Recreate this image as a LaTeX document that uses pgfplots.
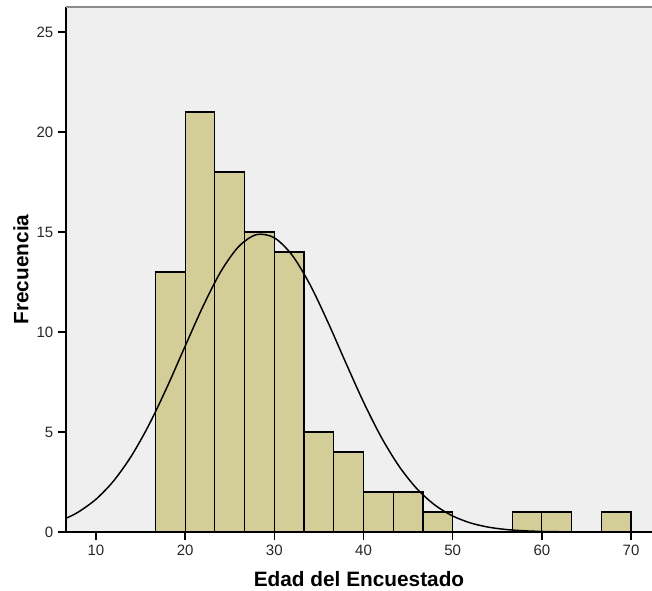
\documentclass[border=0pt]{standalone}
\usepackage{pgfplots}
\pgfplotsset{compat=1.18}
\usepackage{fontspec}
\setmainfont{Liberation Sans}

\definecolor{panel}{RGB}{239,239,239}
\definecolor{barfill}{RGB}{211,206,152}
\definecolor{topline}{RGB}{140,140,140}

\begin{document}
\begin{tikzpicture}
\begin{axis}[
    name=ax,
    scale only axis,
    width=439.5pt,
    height=393.75pt,
    xmin=6.64, xmax=72.35,
    ymin=0, ymax=26.25,
    xtick={10,20,...,70},
    ytick={0,5,...,25},
    axis lines=left,
    axis line style={-, line width=1pt, black},
    tick align=outside,
    major tick length=6pt,
    tick style={line width=1pt, black},
    ticklabel style={font=\fontsize{11.25}{13}\selectfont, text=black!85},
    /pgf/number format/assume math mode=true,
    axis background/.style={fill=panel},
    xlabel={\textbf{Edad del Encuestado}},
    ylabel={\textbf{Frecuencia}},
    label style={font=\fontsize{15.6}{18}\selectfont},
    xlabel style={at={(axis description cs:0.5,-0.0743)}, anchor=north, inner sep=0pt},
    ylabel style={at={(axis description cs:-0.0768,0.5)}, anchor=center, rotate=0, inner sep=0pt},
    clip=true,
]

% histograma (ancho de clase 3.33)
\addplot[ybar interval, fill=barfill, draw=black, line width=0.9pt] coordinates {
    (16.667,13) (20,21) (23.333,18) (26.667,15) (30,14) (33.333,5)
    (36.667,4) (40,2) (43.333,2) (46.667,1) (50,0) (53.333,0)
    (56.667,1) (60,1) (63.333,0) (66.667,1) (70,0)
};

% curva normal
\addplot[smooth, black, line width=1.1pt] coordinates {
    (6.64,0.686) (8,0.991) (10,1.636) (12,2.564) (14,3.819) (16,5.405)
    (18,7.271) (20,9.292) (22,11.28) (24,13.02) (26,14.27) (28,14.87)
    (30,14.71) (32,13.84) (34,12.37) (36,10.50) (38,8.475) (40,6.498)
    (42,4.733) (44,3.278) (46,2.156) (48,1.347) (50,0.800) (52,0.452)
    (54,0.242) (56,0.123) (58,0.060) (60,0.027) (62,0.012) (64,0.005)
    (66,0.002) (68,0.001) (70,0) (72.35,0)
};

\draw[topline, line width=1.5pt] (rel axis cs:0,1) -- (rel axis cs:1,1);
\end{axis}
\pgfresetboundingbox
\path (ax.south west) ++(-49.5pt,-44.25pt) coordinate (bl);
\path (ax.north east) ++(0pt,5.25pt) coordinate (tr);
\path (bl) rectangle (tr);
\end{tikzpicture}
\end{document}
